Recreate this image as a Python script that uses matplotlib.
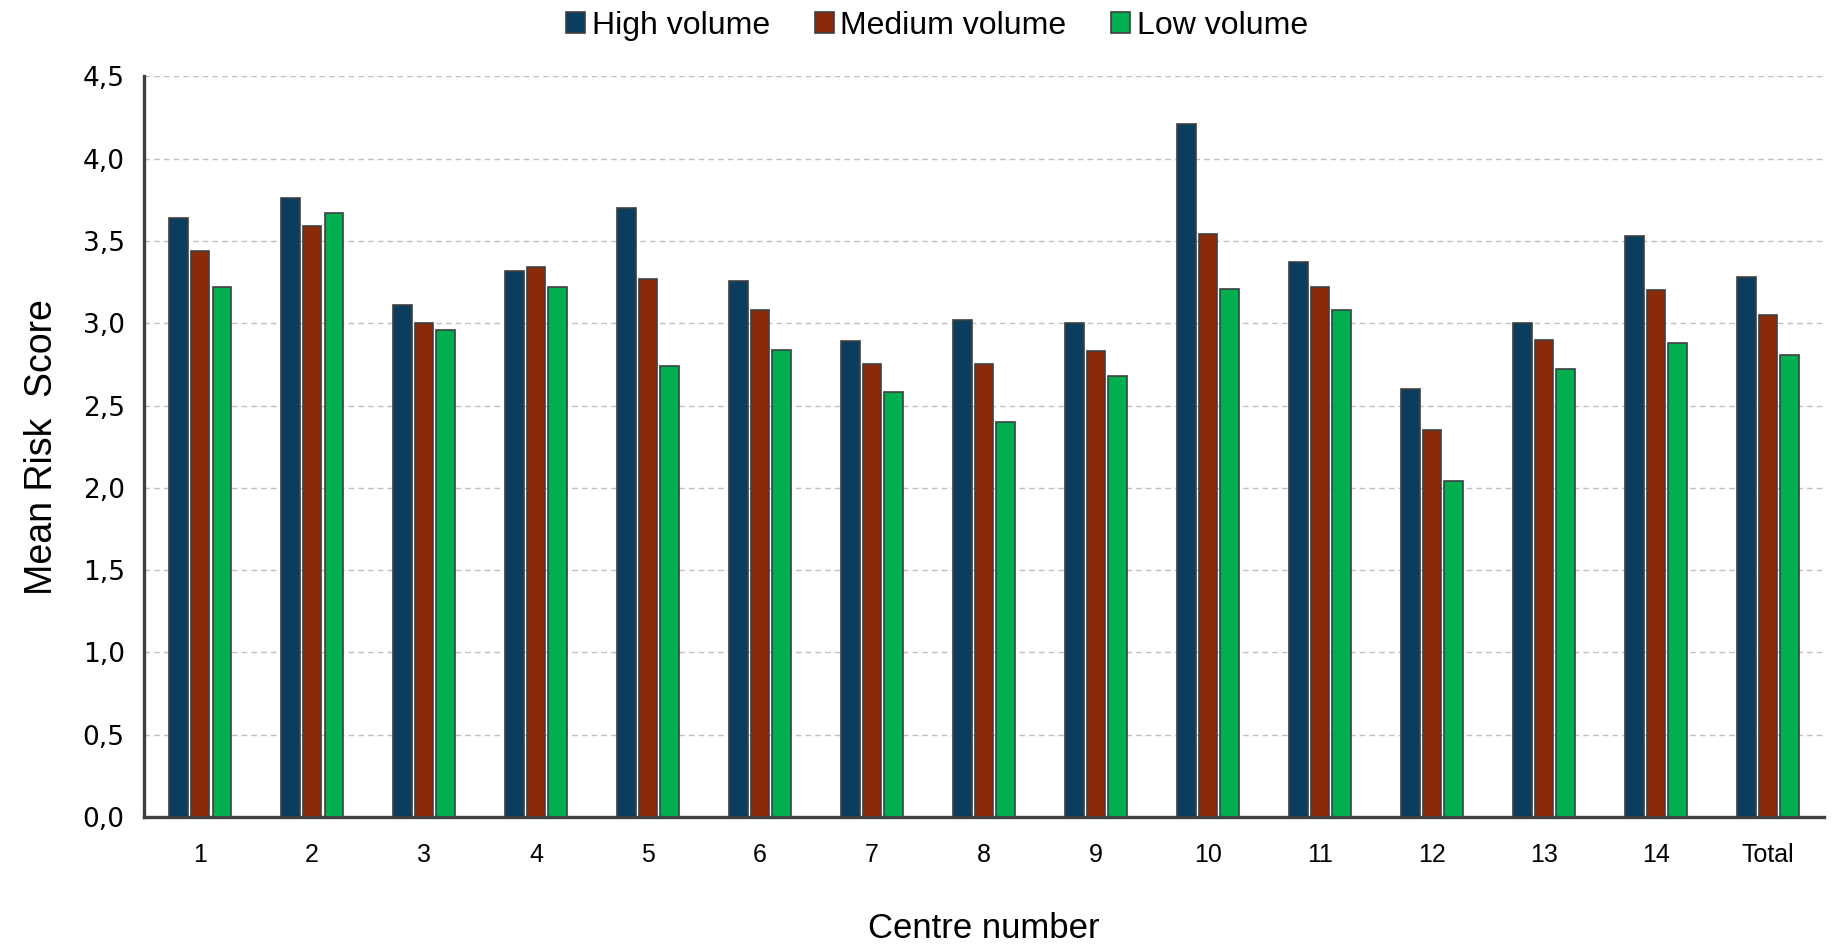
import matplotlib.pyplot as plt
import numpy as np
from matplotlib.ticker import FuncFormatter

centres = ['1', '2', '3', '4', '5', '6', '7', '8', '9', '10', '11', '12', '13', '14', 'Total']
high = [3.64, 3.76, 3.11, 3.32, 3.70, 3.26, 2.89, 3.02, 3.00, 4.21, 3.37, 2.60, 3.00, 3.53, 3.28]
medium = [3.44, 3.59, 3.00, 3.34, 3.27, 3.08, 2.75, 2.75, 2.83, 3.54, 3.22, 2.35, 2.90, 3.20, 3.05]
low = [3.22, 3.67, 2.96, 3.22, 2.74, 2.84, 2.58, 2.40, 2.68, 3.21, 3.08, 2.04, 2.72, 2.88, 2.81]

narrow = ['Liberation Sans', 'DejaVu Sans']

fig = plt.figure(figsize=(18.48, 9.44), dpi=100)
ax = fig.add_axes([0.078, 0.1345, 0.909, 0.7845])

x = np.arange(len(centres))
step = 0.193
width = 0.165
series = [(high, '#0B3D5E', 'High volume'),
          (medium, '#8A2A0B', 'Medium volume'),
          (low, '#00B050', 'Low volume')]
for i, (vals, col, lab) in enumerate(series):
    ax.bar(x + (i - 1) * step, vals, width, color=col, edgecolor='#404040',
           linewidth=1.2, label=lab, zorder=3)

ax.set_xlim(-0.5, len(centres) - 0.5)
ax.set_ylim(0, 4.5)
ax.set_yticks(np.arange(0, 4.51, 0.5))
ax.yaxis.set_major_formatter(FuncFormatter(lambda v, p: f'{v:.1f}'.replace('.', ',')))
ax.set_xticks(x)
ax.set_xticklabels(centres, family=narrow, fontsize=18)
ax.tick_params(axis='y', length=0, pad=14, labelsize=19)
ax.tick_params(axis='x', length=0, pad=19)

ax.grid(axis='y', linestyle=(0, (4, 3)), color='#BFBFBF', linewidth=1.0, zorder=0)
for s in ['top', 'right']:
    ax.spines[s].set_visible(False)
for s in ['left', 'bottom']:
    ax.spines[s].set_color('#404040')
    ax.spines[s].set_linewidth(2.4)

ax.set_ylabel('Mean Risk  Score', family=narrow, fontsize=27, labelpad=16)
ax.set_xlabel('Centre number', family=narrow, fontsize=25, labelpad=32)

fig.legend(loc='upper center', bbox_to_anchor=(0.507, 1.019), ncol=3, frameon=False,
           prop={'family': narrow, 'size': 23}, handlelength=0.6, handleheight=0.6,
           handletextpad=0.2, columnspacing=1.4)

fig.savefig('out.png', dpi=100)
